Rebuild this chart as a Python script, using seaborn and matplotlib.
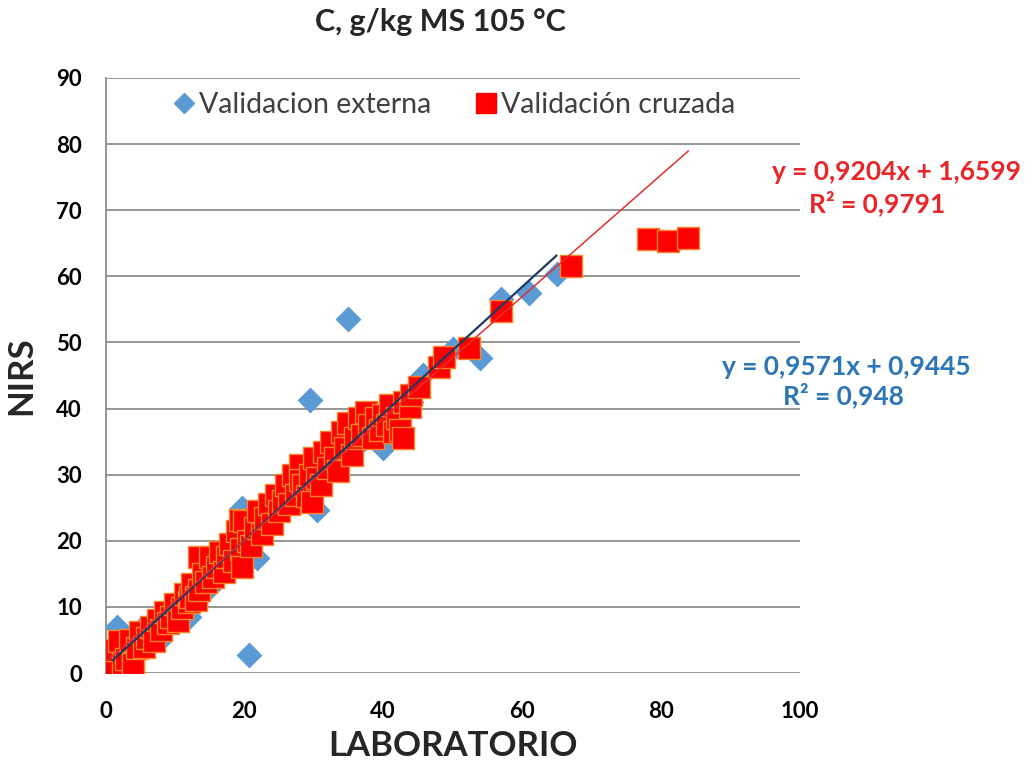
import matplotlib
matplotlib.use("Agg")
import matplotlib.pyplot as plt
from matplotlib.lines import Line2D
import seaborn as sns
import pandas as pd
import numpy as np

# ---- data ----
red_lab = [0.5, 0.8, 1.0, 1.5, 2.0, 2.5, 3.0, 3.5, 3.9, 4.0, 4.5, 5.0, 5.5, 6.0, 6.5, 7.0, 7.5, 8.0, 8.5,
           9.0, 9.5, 10.0, 10.5, 11.0, 11.5, 12.0, 12.1, 12.5, 13.0, 13.1, 13.5, 13.5, 14.0, 14.5, 15.0, 15.5,
           16.0, 16.5, 17.0, 17.5, 18.0, 18.5, 19.0, 19.3, 19.5, 19.7, 20.0, 20.5, 21.0, 21.5, 22.0, 22.5,
           23.0, 23.5, 24.0, 24.5, 25.0, 25.5, 26.0, 26.5, 27.0, 27.5, 28.0, 28.0, 28.5, 29.0, 29.5, 29.8,
           30.0, 30.5, 31.0, 31.5, 32.0, 32.5, 33.0, 33.5, 34.0, 34.5, 35.0, 35.5, 36.0, 36.5, 37.0,
           37.5, 38.0, 38.5, 39.0, 39.5, 40.0, 40.5, 41.0, 41.5, 42.0, 42.4, 42.8, 43.0, 43.8, 44.0, 45.2,
           48.1, 48.8, 52.4, 57.0, 67.0, 78.1, 81.0, 84.0]
red_nirs = [0.8, 2.5, 1.0, 3.5, 4.8, 1.5, 2.2, 5.0, 1.5, 1.3, 3.8, 6.2, 4.0, 5.3, 7.0, 4.8, 8.0, 6.5, 9.2,
            7.5, 8.5, 10.5, 7.8, 9.8, 12.0, 10.8, 11.5, 13.5, 11.5, 11.0, 12.5, 17.5, 15.0, 13.8, 17.5, 14.5,
            16.0, 18.3, 15.3, 17.5, 19.5, 17.0, 21.5, 23.1, 18.8, 16.0, 23.0, 20.0, 19.2, 22.0, 24.5, 21.0,
            23.5, 25.5, 22.5, 27.0, 24.5, 26.0, 28.5, 25.5, 30.0, 27.0, 31.5, 29.2, 28.5, 26.8, 30.0, 25.9,
            32.5, 29.5, 28.5, 33.5, 31.0, 35.0, 32.5, 30.5, 36.5, 34.0, 37.8, 33.0, 35.5, 38.5, 36.0,
            39.5, 37.5, 35.5, 38.5, 36.8, 39.0, 37.5, 40.5, 36.5, 38.5, 36.8, 35.5, 41.0, 40.2, 42.0, 43.3,
            46.3, 47.8, 49.2, 54.8, 61.6, 65.7, 65.4, 65.8]

blue_lab = [1.7, 3.0, 5.0, 7.8, 10.0, 12.0, 15.0, 18.0, 19.7, 20.7, 21.8, 24.0, 26.0, 28.0, 29.4,
            30.5, 32.0, 35.0, 36.0, 38.0, 40.0, 44.0, 45.7, 50.0, 54.0, 57.0, 61.0, 65.0]
blue_nirs = [7.0, 4.0, 6.5, 5.0, 9.0, 8.5, 13.0, 16.0, 25.0, 2.7, 17.4, 23.0, 25.0, 27.0, 41.3,
             24.6, 31.0, 53.5, 34.0, 37.0, 34.0, 41.0, 45.1, 49.0, 47.7, 56.5, 57.5, 60.3]

# trendline coefficients as printed on the chart
red_fit = (0.9204, 1.6599)
blue_fit = (0.9571, 0.9445)
red_fit_range = [0.5, 84.0]
blue_fit_range = [1.0, 65.0]

title = "C, g/kg MS 105 °C"
xlabel = "LABORATORIO"
ylabel = "NIRS"
legend_labels = ["Validacion externa", "Validación cruzada"]
red_eq = ["y = 0,9204x + 1,6599", "R² = 0,9791"]
blue_eq = ["y = 0,9571x + 0,9445", "R² = 0,948"]

# ---- plot ----
sns.set_theme(style="white")
plt.rcParams["font.family"] = ["Lato", "DejaVu Sans"]

RED = "#ff0000"
RED_EDGE = "#f7852a"
BLUE = "#5b9bd5"
NAVY = "#1f3864"
RED_TXT = "#e8262a"
BLUE_TXT = "#2e75b6"

fig = plt.figure(figsize=(10.25, 7.79), dpi=100)
ax = fig.add_axes([0.103, 0.136, 0.677, 0.764])

df_blue = pd.DataFrame({"lab": blue_lab, "nirs": blue_nirs})
df_red = pd.DataFrame({"lab": red_lab, "nirs": red_nirs})

sns.scatterplot(data=df_blue, x="lab", y="nirs", ax=ax, marker="D", s=175,
                color=BLUE, edgecolor=BLUE, linewidth=0, zorder=3)
sns.scatterplot(data=df_red, x="lab", y="nirs", ax=ax, marker="s", s=245,
                color=RED, edgecolor=RED_EDGE, linewidth=1.0, zorder=4)

bx = np.array(blue_fit_range)
rx = np.array(red_fit_range)
sns.lineplot(x=bx, y=blue_fit[0] * bx + blue_fit[1], ax=ax, color=NAVY, linewidth=1.6, zorder=5)
sns.lineplot(x=rx, y=red_fit[0] * rx + red_fit[1], ax=ax, color="#e03030", linewidth=1.1, zorder=6)

ax.set_xlim(0, 100)
ax.set_ylim(0, 90)
ax.set_xticks(range(0, 101, 20))
ax.set_yticks(range(0, 91, 10))
ax.yaxis.grid(True, color="#8c8c8c", linewidth=1.3)
ax.xaxis.grid(False)
ax.set_axisbelow(True)
for s in ["top", "right", "bottom"]:
    ax.spines[s].set_visible(False)
ax.spines["left"].set_color("#8c8c8c")
ax.spines["left"].set_linewidth(1.3)
ax.tick_params(axis="x", length=0, pad=20, labelsize=16)
ax.tick_params(axis="y", length=0, pad=17, labelsize=16)
for lab in ax.get_xticklabels() + ax.get_yticklabels():
    lab.set_fontweight("bold")
    lab.set_color("black")

ax.set_xlabel(xlabel, fontsize=25, fontweight="bold", labelpad=6)
ax.set_ylabel(ylabel, fontsize=25, fontweight="bold", labelpad=14)

fig.text(0.43, 0.972, title, ha="center", va="center", fontsize=22, fontweight="bold")

handles = [Line2D([], [], marker="D", linestyle="none", markersize=10, color=BLUE),
           Line2D([], [], marker="s", linestyle="none", markersize=14, color=RED)]
leg = ax.legend(handles, legend_labels, loc="center", bbox_to_anchor=(0.50, 0.955),
                ncol=2, frameon=False, fontsize=20.5, handletextpad=0.05, columnspacing=1.4,
                handlelength=1.0)
for t in leg.get_texts():
    t.set_color("#404040")

fig.text(0.996, 0.779, red_eq[0], ha="right", va="center", fontsize=19,
         fontweight="bold", color=RED_TXT)
fig.text(0.856, 0.739, red_eq[1], ha="center", va="center", fontsize=19,
         fontweight="bold", color=RED_TXT)
fig.text(0.826, 0.529, blue_eq[0], ha="center", va="center", fontsize=19,
         fontweight="bold", color=BLUE_TXT)
fig.text(0.823, 0.493, blue_eq[1], ha="center", va="center", fontsize=19,
         fontweight="bold", color=BLUE_TXT)

fig.savefig("out.png", dpi=100, facecolor="white")
